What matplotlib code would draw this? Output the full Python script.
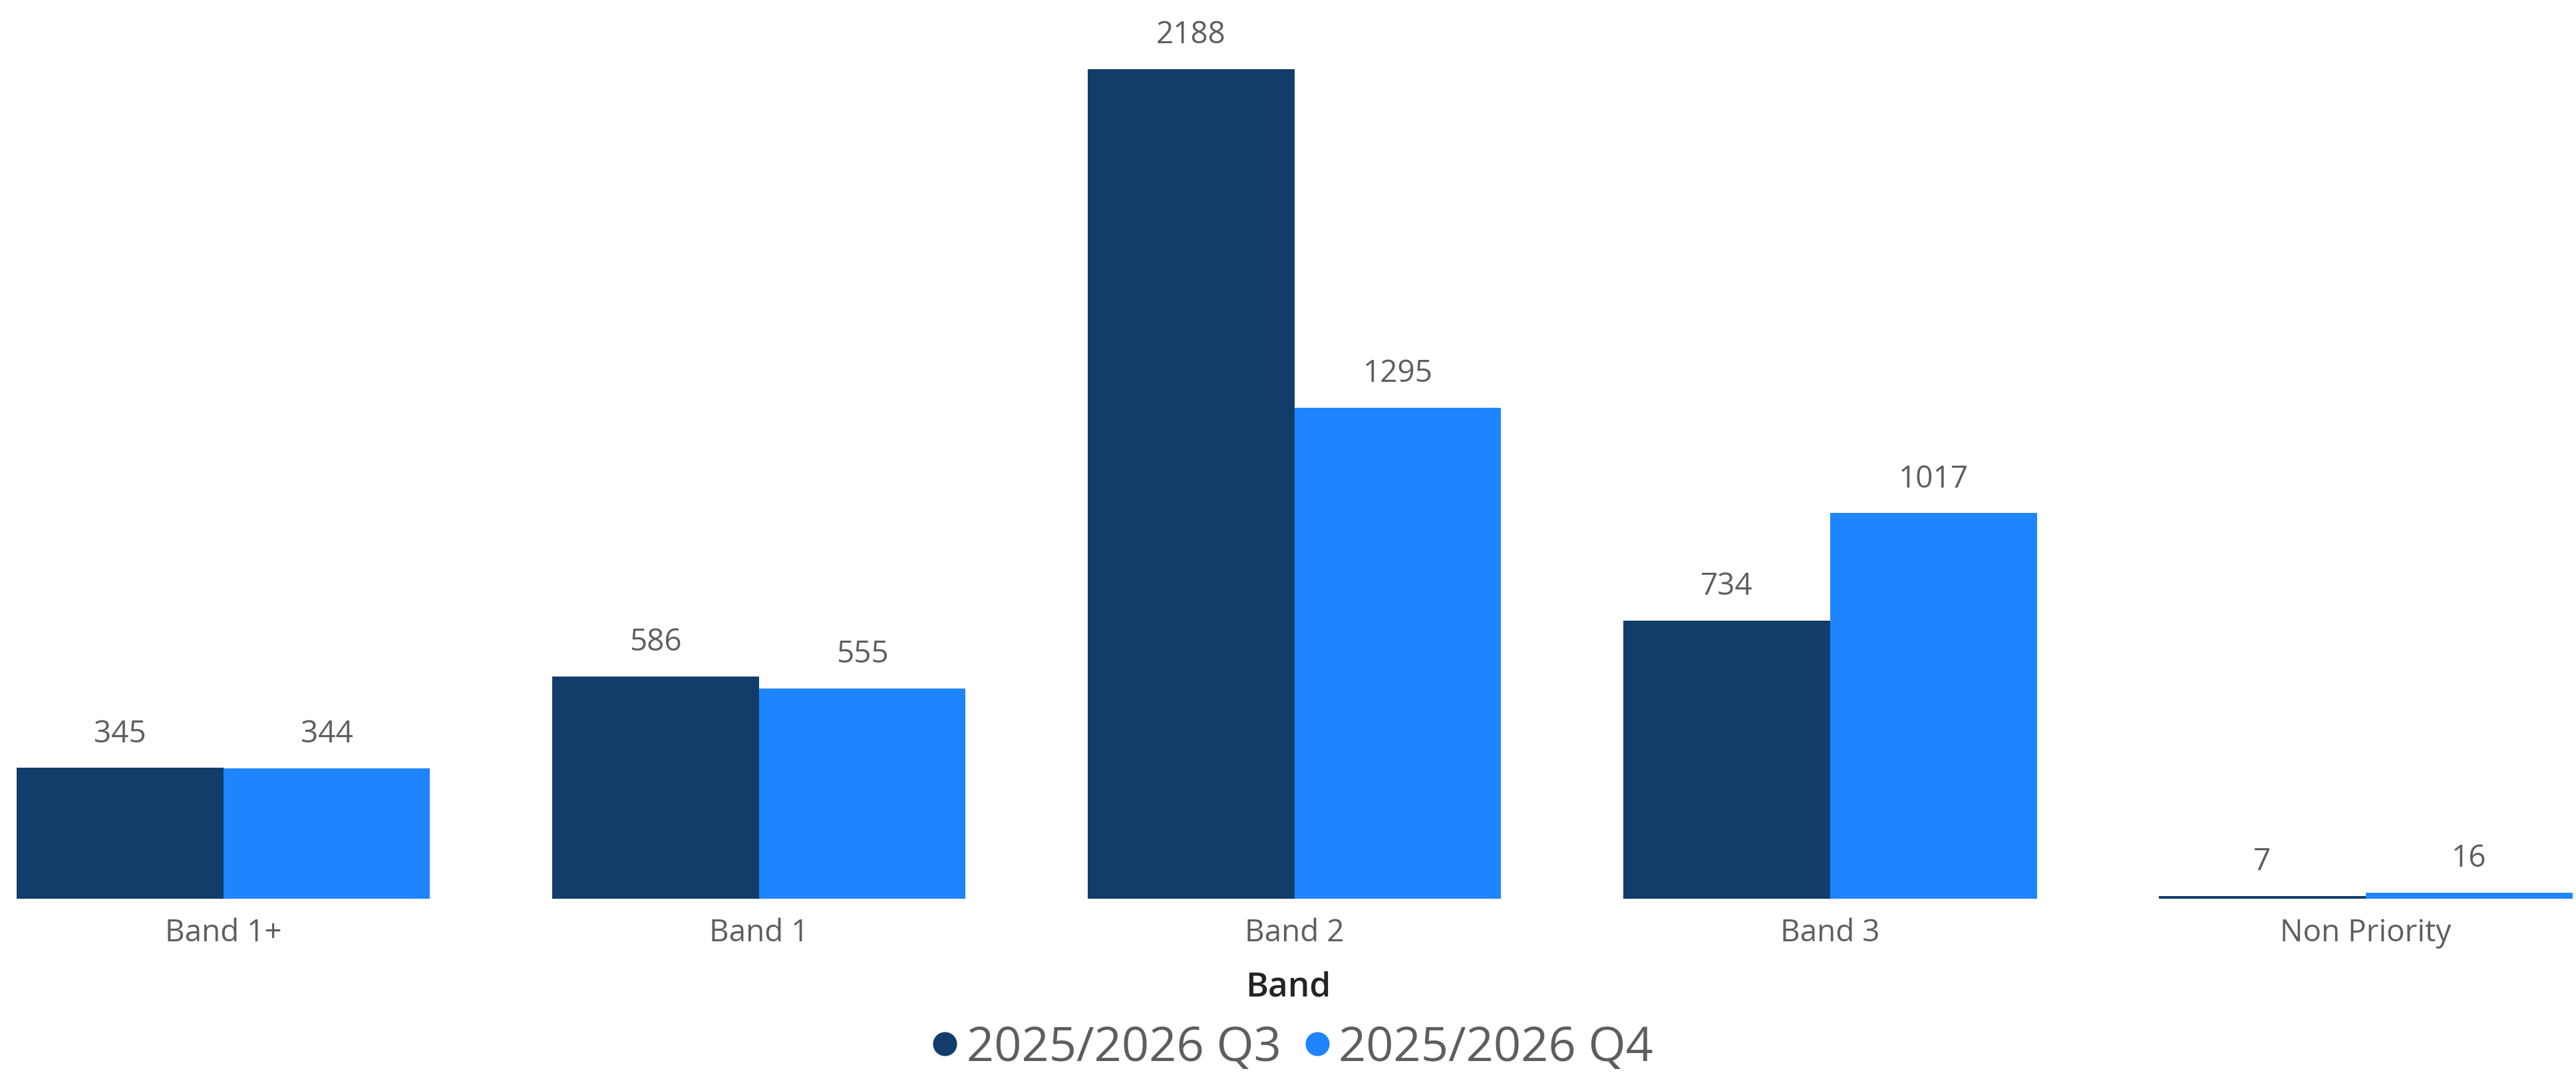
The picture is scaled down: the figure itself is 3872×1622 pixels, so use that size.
import numpy as np
import matplotlib.pyplot as plt
from matplotlib.lines import Line2D

categories = ["Band 1+", "Band 1", "Band 2", "Band 3", "Non Priority"]
q3_values = [345, 586, 2188, 734, 7]
q4_values = [344, 555, 1295, 1017, 16]
series_names = ["2025/2026 Q3", "2025/2026 Q4"]

Q3_COLOR = "#123D6A"
Q4_COLOR = "#1F85FF"
TEXT_GRAY = "#605E5C"

plt.rcParams["font.family"] = ["Open Sans", "DejaVu Sans"]

W, H = 3873, 1622
fig = plt.figure(figsize=(W / 100, H / 100), dpi=100)

# axes: baseline at y=1351px, 2188 reaches y=104px
base_px = 1351
top_px = 104
ax = fig.add_axes([0, (H - base_px) / H, 1, (base_px - top_px) / H])

x = np.arange(len(categories))
bw = 0.386
b1 = ax.bar(x - bw / 2, q3_values, bw, color=Q3_COLOR, label=series_names[0])
b2 = ax.bar(x + bw / 2, q4_values, bw, color=Q4_COLOR, label=series_names[1])

ax.set_ylim(0, 2188)
ax.set_xlim(-0.417, 4.394)

for bars in (b1, b2):
    lbls = ax.bar_label(bars, padding=20, fontsize=33, color=TEXT_GRAY)
    for t in lbls:
        t.set_clip_on(False)

ax.set_xticks(x)
ax.set_xticklabels(categories, fontsize=33, color=TEXT_GRAY)
ax.tick_params(axis="x", length=0, pad=21)
ax.set_yticks([])
for s in ax.spines.values():
    s.set_visible(False)

# axis title
fig.text(0.5, (H - 1484) / H, "Band", ha="center", va="center",
         fontsize=37, color="#252423", fontweight="semibold")

# legend
handles = [Line2D([], [], marker="o", linestyle="", markersize=25,
                  color=c) for c in (Q3_COLOR, Q4_COLOR)]
leg = fig.legend(handles, series_names, loc="center",
                 bbox_to_anchor=(0.5, (H - 1576) / H), ncol=2, frameon=False,
                 fontsize=52, handletextpad=0.0, columnspacing=0.3,
                 handlelength=0.9)
for t in leg.get_texts():
    t.set_color(TEXT_GRAY)

fig.savefig("out.png", dpi=100)
